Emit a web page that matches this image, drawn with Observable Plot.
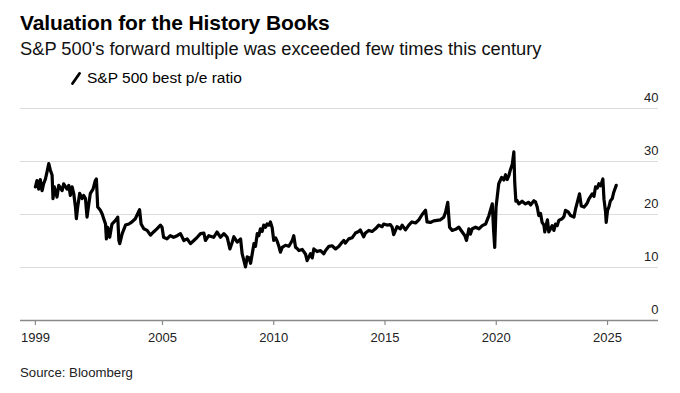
<!DOCTYPE html>
<html>
<head>
<meta charset="utf-8">
<script src="https://cdn.jsdelivr.net/npm/d3@7"></script>
<script src="https://cdn.jsdelivr.net/npm/@observablehq/plot@0.6"></script>
<style>
  html, body { margin: 0; padding: 0; background: #fff; }
  body { width: 680px; height: 393px; position: relative; overflow: hidden;
         font-family: "Liberation Sans", Arial, Helvetica, sans-serif; color: #000; }
  .abs { position: absolute; white-space: nowrap; }
  #title { left: 20px; top: 12px; font-size: 21px; font-weight: bold; line-height: 21px; letter-spacing: -0.1px; }
  #subtitle { left: 20px; top: 39px; font-size: 18.3px; line-height: 19px; color: #111; }
  #legend { left: 71px; top: 70px; font-size: 15.5px; line-height: 16px; display: flex; align-items: center; }
  #legend svg { margin-right: 6px; }
  #chart { left: 0px; top: 90px; }
  #source { left: 20px; top: 366px; font-size: 13.2px; line-height: 14px; color: #222; }
</style>
</head>
<body>
<div id="title" class="abs">Valuation for the History Books</div>
<div id="subtitle" class="abs">S&amp;P 500's forward multiple was exceeded few times this century</div>
<div id="legend" class="abs"><svg width="10" height="13"><line x1="1.5" y1="11.5" x2="8.5" y2="1.5" stroke="#000" stroke-width="2.8" stroke-linecap="round"/></svg><span>S&amp;P 500 best p/e ratio</span></div>
<div id="chart" class="abs"></div>
<div id="source" class="abs">Source: Bloomberg</div>
<script>
// Decimal-year positions of the readings
const years = [
1999.29,1999.36,1999.44,1999.51,1999.59,1999.66,1999.74,1999.81,1999.89,1999.96,
2000.04,2000.08,2000.14,2000.26,2000.34,2000.49,2000.56,2000.71,2000.79,2000.86,2000.94,
2001.01,2001.09,2001.13,2001.19,2001.28,2001.39,2001.46,2001.54,2001.61,2001.69,2001.76,2001.88,2001.98,
2002.03,2002.09,2002.21,2002.29,2002.36,2002.44,2002.48,2002.54,2002.63,2002.73,2002.89,2002.99,
2003.04,2003.08,2003.19,2003.34,2003.49,2003.63,2003.78,2003.88,2003.97,
2004.04,2004.16,2004.31,2004.46,2004.60,2004.75,2004.91,2004.98,
2005.05,2005.20,2005.35,2005.50,2005.66,2005.81,2005.96,
2006.11,2006.26,2006.41,2006.56,2006.71,2006.86,2006.93,
2007.08,2007.30,2007.45,2007.61,2007.76,2007.91,
2008.03,2008.13,2008.21,2008.36,2008.51,2008.58,2008.66,2008.73,2008.81,2008.88,2008.96,
2009.03,2009.11,2009.18,2009.26,2009.33,2009.40,2009.48,2009.55,2009.63,2009.70,2009.78,2009.85,2009.93,
2010.00,2010.08,2010.15,2010.23,2010.30,2010.38,2010.53,2010.68,2010.83,2010.90,2010.98,
2011.05,2011.13,2011.28,2011.35,2011.43,2011.50,2011.58,2011.65,2011.73,2011.80,2011.95,
2012.10,2012.25,2012.33,2012.48,2012.62,2012.78,2012.93,
2013.08,2013.15,2013.22,2013.37,2013.52,2013.67,2013.82,2013.89,2013.97,
2014.04,2014.12,2014.27,2014.42,2014.57,2014.72,2014.87,2014.94,
2015.09,2015.24,2015.32,2015.39,2015.47,2015.54,2015.69,2015.77,2015.92,
2016.07,2016.21,2016.37,2016.52,2016.67,2016.82,2016.89,
2017.04,2017.19,2017.34,2017.49,2017.64,2017.72,2017.82,2017.90,
2018.02,2018.17,2018.32,2018.47,2018.59,2018.66,2018.77,2018.84,2018.92,
2019.07,2019.22,2019.37,2019.52,2019.67,2019.82,2019.88,2019.93,2019.99,
2020.11,2020.24,2020.34,2020.42,2020.49,2020.57,2020.64,2020.72,2020.79,2020.83,2020.88,2020.94,
2021.01,2021.16,2021.31,2021.46,2021.54,2021.69,2021.76,2021.84,2021.91,2021.99,
2022.06,2022.14,2022.18,2022.24,2022.30,2022.36,2022.44,2022.51,2022.59,2022.66,2022.74,2022.81,2022.96,
2023.04,2023.11,2023.23,2023.34,2023.49,2023.56,2023.64,2023.74,2023.82,2023.94,
2024.01,2024.09,2024.16,2024.31,2024.39,2024.46,2024.54,2024.61,2024.69,2024.79,2024.84,2024.91,2024.94,
2025.00,2025.06,2025.13,2025.21,2025.28,2025.39
];
// S&P 500 best p/e ratio readings
const peRatio = [
25.2,26.4,24.8,26.6,24.5,25.8,26.7,28.0,29.6,28.4,
27.4,23.0,25.2,23.3,25.5,24.5,25.8,24.8,25.5,23.6,25.2,
24.0,21.4,19.2,21.4,24.0,23.0,23.6,23.0,19.5,22.0,24.0,24.8,26.4,
26.7,21.4,20.8,20.1,19.2,18.2,15.4,17.6,15.7,18.2,18.9,19.5,
15.1,14.5,16.4,18.0,18.2,18.6,19.2,20.1,20.9,
18.2,17.3,17.0,16.1,16.7,17.3,18.0,17.6,
15.7,15.4,16.0,15.7,16.0,16.4,15.1,
15.4,14.5,15.1,15.7,16.4,16.5,15.1,
16.0,15.7,16.7,15.7,16.4,15.7,
13.5,14.7,15.8,14.8,15.4,12.6,11.3,10.1,12.0,11.9,10.8,
12.5,14.5,14.0,16.4,16.0,17.3,16.8,18.0,17.6,18.2,18.0,18.6,17.5,
15.1,15.6,15.0,14.0,12.9,13.8,14.2,14.0,15.1,16.0,13.8,
13.6,13.2,13.4,13.0,12.5,11.3,12.0,12.6,11.8,13.5,13.0,
13.2,12.6,13.2,14.0,14.1,13.5,14.0,
14.8,15.1,14.6,15.4,15.6,16.5,16.8,17.1,16.4,
15.8,16.5,17.0,16.8,17.3,18.0,17.7,18.2,
18.0,18.1,17.6,16.2,17.0,17.7,17.3,18.0,17.1,
18.0,18.6,18.4,19.0,20.0,20.8,18.6,
18.5,18.8,18.9,19.0,19.5,20.4,22.3,17.6,
17.0,17.2,17.6,16.7,16.0,15.1,17.3,16.3,17.3,
17.6,17.3,17.9,18.2,19.8,22.0,17.0,13.8,21.4,
25.8,27.0,26.5,27.5,26.6,27.4,28.5,29.5,31.8,26.0,22.5,22.6,
22.0,22.5,22.0,22.3,21.8,22.6,22.4,21.4,19.8,20.2,
18.5,18.0,16.7,18.0,19.0,16.7,17.3,17.9,17.0,18.2,17.9,18.9,19.2,
19.6,20.8,20.5,19.8,19.5,21.0,22.3,23.9,21.6,21.4,
21.7,22.2,22.9,23.9,23.4,25.2,25.0,25.8,25.4,26.7,22.9,20.5,18.5,
20.8,21.4,22.6,23.0,24.2,25.5
];
const xTickPositions = [1999.29, 2005, 2010, 2015, 2020, 2025];
const xTickLabels = ["1999", "2005", "2010", "2015", "2020", "2025"];
const yTicks = [0, 10, 20, 30, 40];
const yGrid = [10, 20, 30, 40];

const data = years.map((t, i) => ({t, v: peRatio[i]}));

const chart = Plot.plot({
  width: 680,
  height: 262,
  marginLeft: 20,
  marginRight: 22,
  marginTop: 18,
  marginBottom: 32,
  style: {fontFamily: '"Liberation Sans", Arial, Helvetica, sans-serif', fontSize: "13px", color: "#222", background: "transparent"},
  x: {domain: [1998.62, 2027.29]},
  y: {domain: [0, 40]},
  marks: [
    Plot.gridY(yGrid, {stroke: "#dcdcdc", strokeOpacity: 1, strokeWidth: 1}),
    Plot.axisY(yTicks, {anchor: "right", tickSize: 0, tickPadding: 0, textAnchor: "end", dy: -11, label: null, fontSize: 13}),
    Plot.ruleY([0], {stroke: "#8a8a8a", strokeWidth: 1.5}),
    Plot.axisX(xTickPositions, {tickSize: 5, tickPadding: 7, stroke: "#8a8a8a", strokeWidth: 1.2, label: null, fontSize: 13,
      tickFormat: (d) => xTickLabels[xTickPositions.indexOf(d)]}),
    Plot.line(data, {x: "t", y: "v", stroke: "#000", strokeWidth: 3.2, strokeLinejoin: "round", strokeLinecap: "round"})
  ]
});
document.getElementById("chart").appendChild(chart);
</script>
</body>
</html>
